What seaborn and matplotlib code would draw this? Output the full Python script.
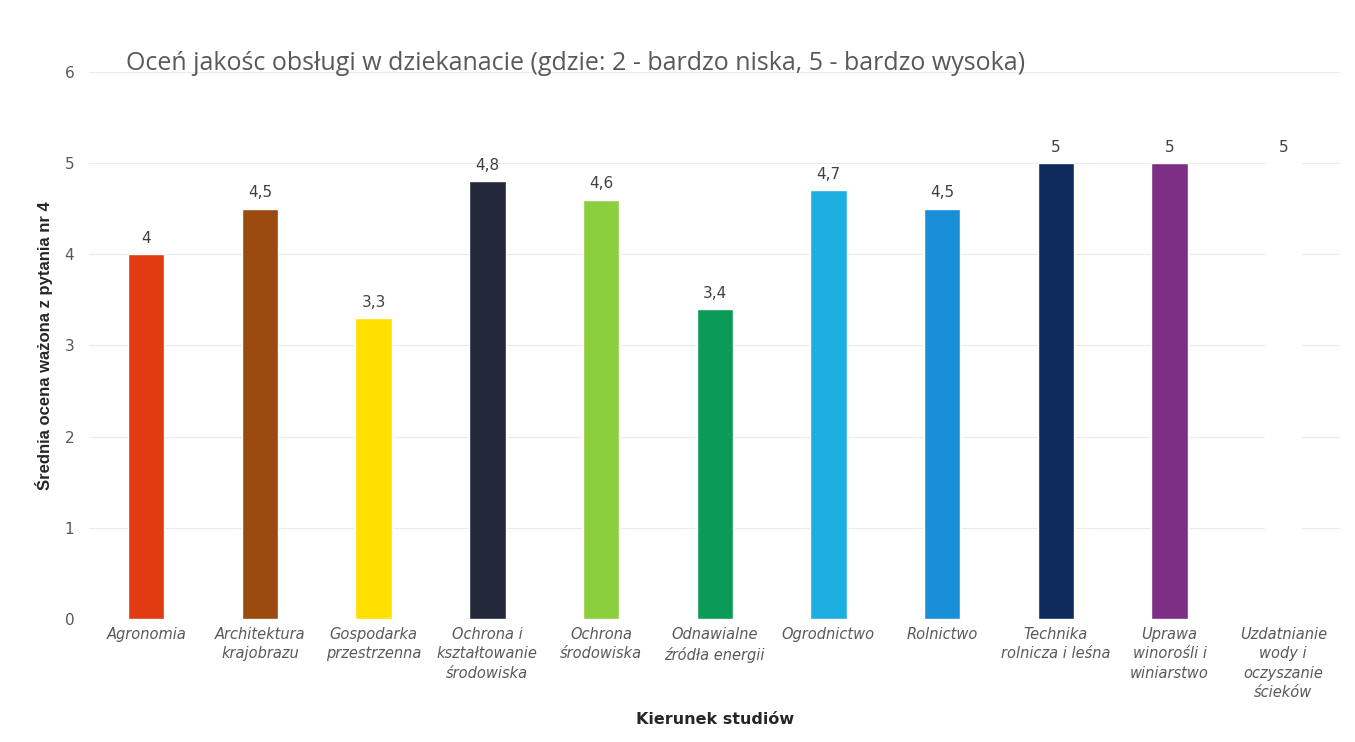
import matplotlib
matplotlib.use("Agg")
import matplotlib.pyplot as plt
import pandas as pd
import seaborn as sns

CATEGORIES = [
    "Agronomia",
    "Architektura\nkrajobrazu",
    "Gospodarka\nprzestrzenna",
    "Ochrona i\nkształtowanie\nśrodowiska",
    "Ochrona\nśrodowiska",
    "Odnawialne\nźródła energii",
    "Ogrodnictwo",
    "Rolnictwo",
    "Technika\nrolnicza i leśna",
    "Uprawa\nwinorośli i\nwiniarstwo",
    "Uzdatnianie\nwody i\noczyszanie\nścieków",
]
SCORES = [4.0, 4.5, 3.3, 4.8, 4.6, 3.4, 4.7, 4.5, 5.0, 5.0, 5.0]
COLORS = [
    "#E23B12", "#9B4A10", "#FFE000", "#23283A", "#8CCF3E", "#0B9A58",
    "#1DAEE2", "#1A8FD9", "#0E2A5C", "#7D2F86", "#FFFFFF",
]

TEXT_GREY = "#595959"


def fmt_pl(v: float) -> str:
    s = f"{v:.1f}".rstrip("0").rstrip(".")
    return s.replace(".", ",")


def main() -> None:
    sns.set_theme(style="white")
    plt.rcParams["font.family"] = ["DejaVu Sans"]

    df = pd.DataFrame({"kierunek": CATEGORIES, "ocena": SCORES})

    fig = plt.figure(figsize=(13.55, 7.42), dpi=100)
    ax = fig.add_axes([0.066, 0.166, 0.923, 0.737])
    sns.barplot(
        data=df, x="kierunek", y="ocena", hue="kierunek",
        palette=COLORS, legend=False, width=0.32, saturation=1, ax=ax,
    )

    ax.set_ylim(0, 6)
    ax.set_xlim(-0.5, len(CATEGORIES) - 0.5)
    ax.set_yticks(range(0, 7))
    ax.yaxis.grid(True, color="#EBEBEB", linewidth=0.8)
    ax.set_axisbelow(True)
    for side in ["top", "right", "left", "bottom"]:
        ax.spines[side].set_visible(False)
    ax.tick_params(axis="y", colors=TEXT_GREY, labelsize=11, length=0, pad=11)
    ax.tick_params(axis="x", length=0, pad=6)
    ax.set_xticks(range(len(CATEGORIES)))
    ax.set_xticklabels(CATEGORIES, style="italic", color=TEXT_GREY,
                       fontsize=10.5, va="top", linespacing=1.35)

    for i, v in enumerate(SCORES):
        ax.text(i, v + 0.09, fmt_pl(v), ha="center", va="bottom",
                fontsize=11, color="#404040")

    ax.set_ylabel("Średnia ocena ważona z pytania nr 4", fontsize=12,
                  fontweight="bold", color="#262626",
                  family=["Liberation Sans Narrow", "Liberation Sans", "DejaVu Sans"])
    ax.yaxis.set_label_coords(-0.029, 0.5)
    ax.set_xlabel("Kierunek studiów", fontsize=11.5, fontweight="bold",
                  color="#262626")
    ax.xaxis.set_label_coords(0.5, -0.17)

    fig.text(0.093, 0.915, "Oceń jakośc obsługi w dziekanacie (gdzie: 2 - bardzo niska, 5 - bardzo wysoka)",
             fontsize=18, color=TEXT_GREY, ha="left", va="center",
             family=["Open Sans", "DejaVu Sans"])

    fig.savefig("out.png", dpi=100)
    plt.close(fig)


if __name__ == "__main__":
    main()
